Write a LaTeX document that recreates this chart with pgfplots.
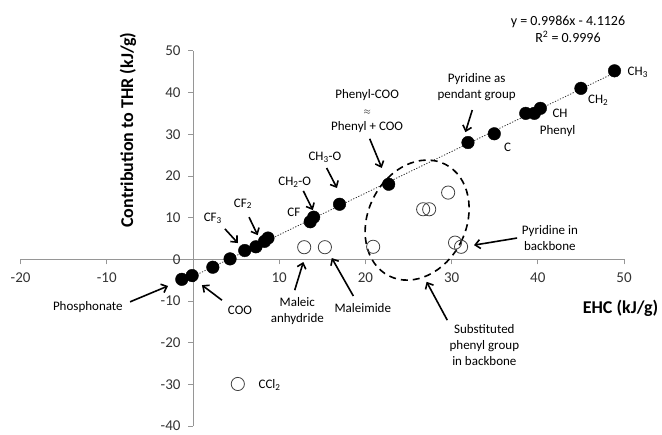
\documentclass[border=0pt]{standalone}
\usepackage{pgfplots}
\pgfplotsset{compat=1.18}
\usepackage{fontspec}
\setmainfont{Carlito}
\usetikzlibrary{arrows.meta}
\definecolor{axgray}{RGB}{150,150,150}
\newcommand{\ann}{\fontsize{13}{16}\selectfont}
\begin{document}
\begin{tikzpicture}
\begin{axis}[
 width=603.4pt, height=375.3pt, scale only axis,
 xmin=-20,xmax=50,ymin=-40,ymax=50,
 axis lines=middle,
 axis line style={-, axgray, line width=0.8pt},
 xtick={-20,-10,...,50}, ytick={-40,-30,...,50},
 hide obscured x ticks=false, hide obscured y ticks=false,
 tick style={axgray, line width=0.8pt},
 major tick length=5pt,
 tick align=outside,
 ticklabel style={font=\fontsize{15}{17}\selectfont, text=black!80},
 /pgf/number format/assume math mode=true,
 xticklabel style={anchor=north, yshift=-5pt},
 yticklabel style={anchor=east, xshift=-4pt},
 yticklabel style={yshift=0pt},
 clip=false,
]
\coordinate (O) at (axis cs:0,0);
% trend line (fit endpoints)
\addplot[black!80, line width=0.8pt, dash pattern=on 1.2pt off 1.6pt] coordinates {(-1.3,-5.41) (48.9,44.72)};
% filled points
\addplot[only marks, mark=*, mark size=6.3pt, mark options={fill=black, draw=black}] coordinates {
(-1.3,-4.8) (-0.1,-3.9) (2.3,-1.9) (4.3,0.1) (6.0,2.1) (7.3,3.0) (8.3,4.3) (8.7,5.1)
(13.6,9.0) (14.0,10.1) (17.0,13.2) (22.7,18.0) (31.9,28.0) (34.95,30.1)
(38.6,35.0) (39.6,35.0) (40.3,36.2) (45.0,41.0) (48.9,45.2)};
% open points
\addplot[only marks, mark=o, mark size=6.6pt, mark options={draw=black!75, line width=0.8pt}] coordinates {
(5.2,-29.9) (12.9,2.9) (15.3,2.9) (20.9,3.0) (26.7,12.0) (27.4,12.0) (29.6,16.0) (30.4,4.0) (31.1,3.0)};
% dashed ellipse
\draw[black, line width=1.6pt, dash pattern=on 7pt off 5pt, rotate around={-26.7:(axis cs:26.0,9.4)}] (axis cs:26.0,9.4) ellipse [x radius=49pt, y radius=62.5pt];
% axis titles
\node[rotate=90, font=\fontsize{18}{20}\selectfont\bfseries] at (axis cs:-7.54,31.0) {Contribution to THR (kJ/g)};
\node[font=\fontsize{18}{20}\selectfont\bfseries] at (axis cs:49.6,-11.75) {EHC (kJ/g)};
% equation
\node[font=\fontsize{14}{17}\selectfont, align=center] at (axis cs:43.5,55.2) {y = 0.9986x - 4.1126\\R\textsuperscript{2} = 0.9996};
% annotations
\tikzset{arr/.style={-{Straight Barb[length=5pt,width=9pt]}, line width=1.6pt, black}}
\node[font=\ann] at (axis cs:-12.2,-11.4) {Phosphonate};
\draw[arr] (axis cs:-7.3,-10.2) -- (axis cs:-2.9,-6.4);
\node[font=\ann] at (axis cs:5.45,-12.2) {COO};
\draw[arr] (axis cs:3.36,-9.8) -- (axis cs:1.04,-6.2);
\node[font=\ann, align=center] at (axis cs:12.1,-12.4) {Maleic\\anhydride};
\draw[arr] (axis cs:11.8,-7.4) -- (axis cs:12.8,-0.65);
\node[font=\ann] at (axis cs:19.7,-11.7) {Maleimide};
\draw[arr] (axis cs:18.6,-8.8) -- (axis cs:16.1,0.3);
\node[font=\ann, align=center] at (axis cs:33.8,-20.6) {Substituted\\phenyl group\\in backbone};
\draw[arr] (axis cs:29.5,-14.6) -- (axis cs:27.1,-5.4);
\node[font=\ann, align=center] at (axis cs:41.4,5.1) {Pyridine in\\backbone};
\draw[arr] (axis cs:37.6,5.1) -- (axis cs:32.6,3.4);
\node[font=\ann, anchor=west] at (axis cs:7.2,-30.1) {CCl\textsubscript{2}};
\node[font=\ann] at (axis cs:2.3,9.9) {CF\textsubscript{3}};
\draw[arr] (axis cs:3.7,7.3) -- (axis cs:5.2,3.9);
\node[font=\ann] at (axis cs:5.8,13.3) {CF\textsubscript{2}};
\draw[arr] (axis cs:6.5,10.1) -- (axis cs:7.5,5.8);
\node[font=\ann] at (axis cs:11.7,11.3) {CF};
\node[font=\ann] at (axis cs:11.8,18.5) {CH\textsubscript{2}-O};
\draw[arr] (axis cs:12.8,16.4) -- (axis cs:13.9,11.8);
\node[font=\ann] at (axis cs:15.3,24.5) {CH\textsubscript{3}-O};
\draw[arr] (axis cs:15.5,21.9) -- (axis cs:16.7,17.1);
\node[font=\ann, align=center] at (axis cs:20.2,35.5) {Phenyl-COO\\{\fontsize{9}{16}\selectfont$\approx$}\\Phenyl + COO};
\draw[arr] (axis cs:20.5,28.9) -- (axis cs:21.9,21.9);
\node[font=\ann, align=center] at (axis cs:32.9,41.4) {Pyridine as\\pendant group};
\draw[arr] (axis cs:32.4,35.8) -- (axis cs:31.6,30.5);
\node[font=\ann] at (axis cs:36.5,26.9) {C};
\node[font=\ann, anchor=west] at (axis cs:41.3,35.1) {CH};
\node[font=\ann] at (axis cs:42.3,30.7) {Phenyl};
\node[font=\ann] at (axis cs:47.0,38.2) {CH\textsubscript{2}};
\node[font=\ann] at (axis cs:51.6,44.9) {CH\textsubscript{3}};
\end{axis}
\pgfresetboundingbox
\path[use as bounding box] ([shift={(-193pt,259.3pt)}]O) rectangle ([shift={(469pt,-175pt)}]O);
\end{tikzpicture}
\end{document}
